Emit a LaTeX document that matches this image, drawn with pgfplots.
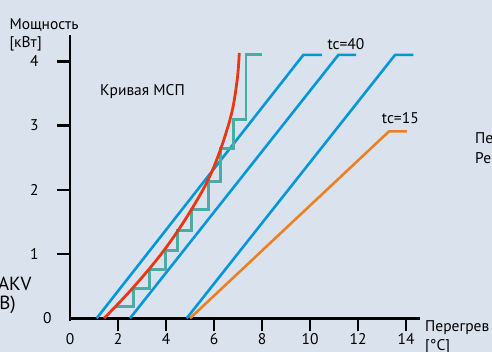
\documentclass[border=0pt]{standalone}
\usepackage{pgfplots}
\pgfplotsset{compat=1.18}
\usepackage{fontspec}
\setmainfont{PT Sans}
\definecolor{bg}{RGB}{218,227,237}
\definecolor{cblue}{RGB}{0,150,218}
\definecolor{cred}{RGB}{232,55,18}
\definecolor{cteal}{RGB}{74,172,164}
\definecolor{corange}{RGB}{238,128,36}
\begin{document}
\fontsize{15.5}{18}\selectfont
\begin{tikzpicture}[x=1pt,y=1pt]
\useasboundingbox (0,0) rectangle (492,-351);
\fill[bg] (-10,10) rectangle (502,-361);
\begin{axis}[
  at={(70pt,-318.3pt)}, anchor=south west,
  scale only axis, width=350pt, height=283.3pt,
  xmin=0, xmax=14.58, ymin=0, ymax=4.41,
  axis lines=left, axis line style={-, line width=2.5pt, black},
  xtick={0,2,4,...,14}, ytick={1,2,3,4},
  extra y ticks={0}, extra y tick style={major tick length=0pt},
  tick style={line width=2.4pt, black},
  major tick length=13pt, tick align=outside,
  /pgf/number format/assume math mode=true,
  ticklabel style={font=\fontsize{15.5}{18}\selectfont},
  yticklabel style={anchor=east, xshift=-13pt},
  xticklabel style={yshift=-1pt, inner sep=1pt},
  xtick style={/pgfplots/major tick length=13pt},
]
\addplot[cblue, line width=2.6pt] coordinates {(1.11,0) (9.72,4.10) (10.49,4.10)};
\addplot[cblue, line width=2.6pt] coordinates {(2.5,0) (11.18,4.10) (11.92,4.10)};
\addplot[cblue, line width=2.6pt] coordinates {(4.86,0) (13.54,4.10) (14.30,4.10)};
\addplot[corange, line width=2.6pt] coordinates {(5.0,0) (13.29,2.91) (14.03,2.91)};
\addplot[cteal, line width=2.9pt] coordinates {(1.92,0.18) (2.64,0.18) (2.64,0.47) (3.33,0.47) (3.33,0.76) (3.96,0.76) (3.96,1.06) (4.47,1.06) (4.47,1.36) (5.07,1.36) (5.07,1.70) (5.76,1.70) (5.76,2.13) (6.28,2.13) (6.28,2.65) (6.81,2.65) (6.81,3.10) (7.33,3.10) (7.33,4.10) (7.99,4.10)};
\addplot[cred, line width=2.8pt, smooth, tension=0.6] coordinates {(1.42,0) (2.61,0.47) (3.92,1.06) (5.07,1.70) (5.94,2.31) (6.67,3.10) (6.96,3.70) (7.05,4.13)};
\end{axis}
\fill[bg] (68,-320.5) rectangle (73,-332);
\node[anchor=base west, inner sep=0] at (9.3,-29) {Мощность};
\node[anchor=base west, inner sep=0] at (9.3,-47.3) {[кВт]};
\node[anchor=base west, inner sep=0] at (100,-95) {Кривая МСП};
\node[anchor=base west, inner sep=0] at (327.3,-49.3) {tc=40};
\node[anchor=base west, inner sep=0] at (381.7,-123.3) {tc=15};
\node[anchor=base west, inner sep=0] at (475,-143.3) {Пе};
\node[anchor=base west, inner sep=0] at (475,-163.3) {Ре};
\node[anchor=base east, inner sep=0, font=\fontsize{19}{22}\selectfont] at (31.7,-290) {AKV};
\node[anchor=base east, inner sep=0, font=\fontsize{19}{22}\selectfont] at (16,-309) {В)};
\node[anchor=base west, inner sep=0] at (425,-331.7) {Перегрев};
\node[anchor=base west, inner sep=0] at (425,-350) {[°C]};
\end{tikzpicture}
\end{document}
